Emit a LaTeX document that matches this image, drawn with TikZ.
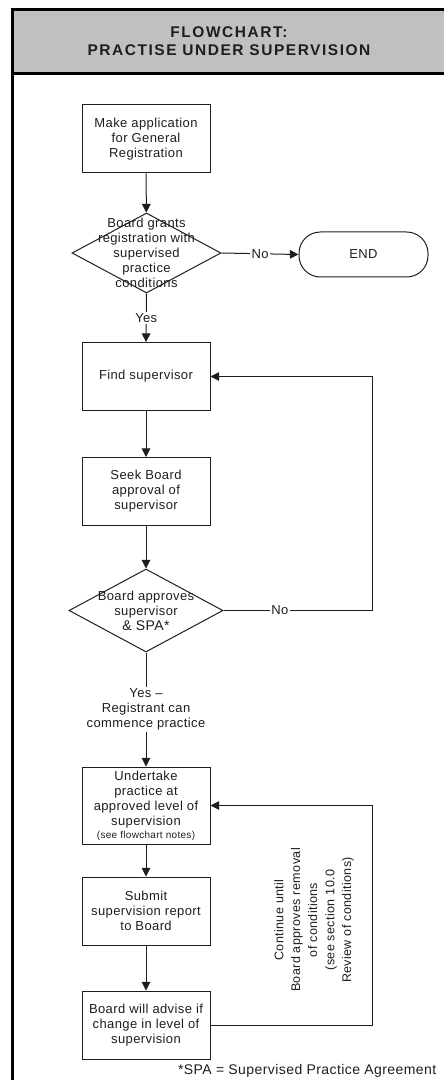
\documentclass[tikz,border=0pt]{standalone}
\usepackage{fontspec}
\setmainfont{Liberation Sans}[LetterSpace=3]
\newfontfamily\headfont{Liberation Sans}[LetterSpace=10]
\usetikzlibrary{shapes.geometric,arrows.meta}
\definecolor{headgray}{HTML}{C0C0C0}
\definecolor{inkgray}{HTML}{1E1E1E}

\begin{document}
\begin{tikzpicture}[x=0.75pt,y=-0.75pt, color=inkgray,
  procbox/.style={draw, line width=0.75pt, minimum width=96pt, minimum height=51pt, inner sep=2pt, align=center, font=\fontsize{9.75}{11.25}\selectfont},
  decision/.style={draw, diamond, line width=0.75pt, inner sep=0pt},
  dectext/.style={align=center, font=\fontsize{9.75}{11.25}\selectfont},
  flow/.style={line width=0.75pt, -{Triangle[length=6.5pt,width=6.5pt]}},
  lbl/.style={fill=white, inner sep=1pt, align=center, font=\fontsize{9.75}{11.25}\selectfont}]
\useasboundingbox (0,0) rectangle (444,1080);

% frame and heading
\fill[headgray] (12,10) rectangle (444,73);
\draw[black, line width=2.25pt] (12,8) -- (12,1080);
\draw[black, line width=2.25pt] (11,9.5) -- (444,9.5);
\draw[black, line width=2.25pt] (11,73.5) -- (444,73.5);
\node[align=center, font=\headfont\bfseries\fontsize{11.6}{13.2}\selectfont] (title) at (229,41) {FLOWCHART:\\PRACTISE UNDER SUPERVISION};

% steps
\node[procbox] (apply) at (146,139) {Make application\\for General\\Registration};
\node[decision, minimum width=111.75pt, minimum height=60pt,
  label={[dectext]center:Board grants\\registration with\\supervised\\practice\\conditions}] (grant) at (146.5,253) {};
\node[draw, line width=0.75pt, rounded corners=16pt, minimum width=96.75pt, minimum height=33.75pt, font=\fontsize{9.75}{11.25}\selectfont] (stop) at (363.5,254.5) {END};
\node[procbox] (find) at (146,376.5) {Find supervisor};
\node[procbox] (seek) at (146,491.5) {Seek Board\\approval of\\supervisor};
\node[decision, minimum width=115.5pt, minimum height=62.25pt,
  label={[dectext]center:Board approves\\supervisor\\{\fontsize{10.5}{11.25}\selectfont\& SPA*}}] (approve) at (146,610.5) {};
\node[procbox, minimum height=57.75pt] (practise) at (146,805.5) {Undertake\\practice at\\approved level of\\supervision\\[-1.5pt]{\fontsize{7.5}{9}\selectfont(see flowchart notes)}};
\node[procbox] (report) at (146,911) {Submit\\supervision report\\to Board};
\node[procbox] (advise) at (146,1025) {Board will advise if\\change in level of\\supervision};

% connectors
\draw[flow] (apply) -- (grant);
\draw[flow] (grant.east) -- node[lbl] {No} (stop.west);
\draw[flow] (grant.south) -- node[lbl] {Yes} (find.north);
\draw[flow] (find) -- (seek);
\draw[flow] (seek) -- (approve.north);
\coordinate (loopA) at (372,610.5);
\draw[flow] (approve.east) -- node[lbl, pos=0.38] {No} (loopA) |- (find.east);
\draw[flow] (approve.south) -- node[lbl] {Yes --\\Registrant can\\commence practice} (practise.north);
\draw[flow] (practise) -- (report);
\draw[flow] (report) -- (advise);
\coordinate (loopB) at (372,1025);
\draw[flow] (advise.east) -- (loopB) |- (practise.east);

% notes
\node[rotate=90, align=center, font=\fontsize{9.4}{12.75}\selectfont] (until) at (314,920) {Continue until\\Board approves removal\\of conditions\\(see section 10.0\\Review of conditions)};
\node[anchor=east, font=\fontsize{10.5}{12}\selectfont] (spa) at (441,1071) {*SPA = Supervised Practice Agreement};
\end{tikzpicture}
\end{document}
